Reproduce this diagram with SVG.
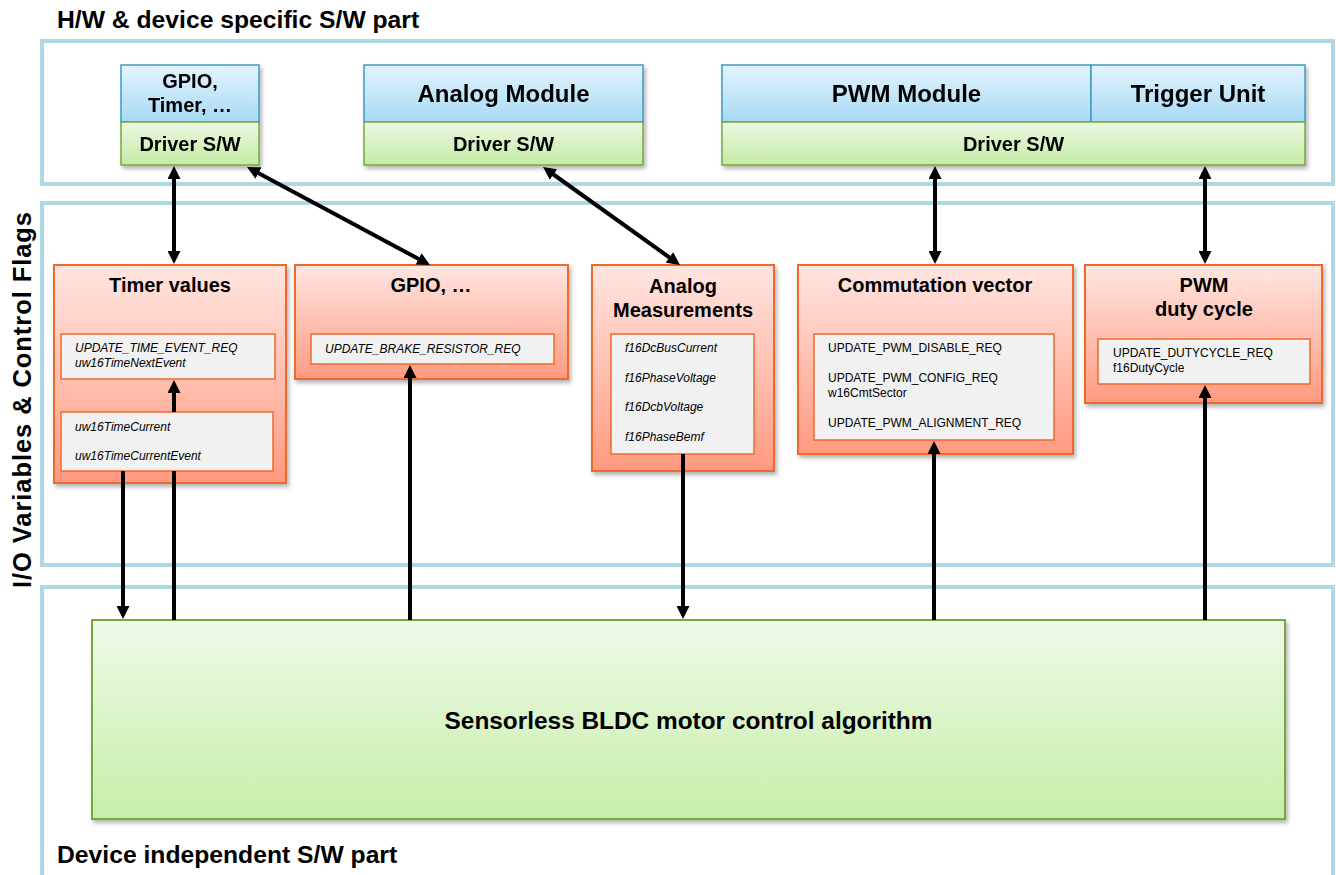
<svg xmlns="http://www.w3.org/2000/svg" width="1336" height="875" viewBox="0 0 1336 875">
<defs>
<linearGradient id="gBlue" x1="0" y1="0" x2="0" y2="1"><stop offset="0" stop-color="#E4F4FD"/><stop offset="1" stop-color="#A7D9F5"/></linearGradient>
<linearGradient id="gGreen" x1="0" y1="0" x2="0" y2="1"><stop offset="0" stop-color="#EDF8E3"/><stop offset="1" stop-color="#C4EBA4"/></linearGradient>
<linearGradient id="gOrange" x1="0" y1="0" x2="0" y2="1"><stop offset="0" stop-color="#FFE6E1"/><stop offset="1" stop-color="#FF9A80"/></linearGradient>
<linearGradient id="gBig" x1="0" y1="0" x2="0" y2="1"><stop offset="0" stop-color="#EFFAE8"/><stop offset="1" stop-color="#C6EEA8"/></linearGradient>
<filter id="shadow" x="-10%" y="-10%" width="130%" height="130%"><feDropShadow dx="2" dy="3" stdDeviation="2" flood-color="#000" flood-opacity="0.3"/></filter>
<marker id="ah" viewBox="0 0 13 13" markerWidth="13" markerHeight="13" refX="7" refY="6.5" orient="auto-start-reverse" markerUnits="userSpaceOnUse"><path d="M0,0 L13,6.5 L0,13 z" fill="#000"/></marker>
</defs>
<style>
.panel{fill:#fff;stroke:#ADD8E6;stroke-width:4}
.blue{fill:url(#gBlue);stroke:#3E9BC6;stroke-width:1.5}
.green{fill:url(#gGreen);stroke:#76A93E;stroke-width:1.5}
.orange{fill:url(#gOrange);stroke:#EE6A2C;stroke-width:2;filter:url(#shadow)}
.inner{fill:#F1F1F1;stroke:#EE6A2C;stroke-width:1.5}
.big{fill:url(#gBig);stroke:#76A93E;stroke-width:2;filter:url(#shadow)}
.hw{filter:url(#shadow)}
text{font-family:"Liberation Sans",Arial,sans-serif;fill:#000}
.hdr{font-size:24.7px;font-weight:bold}
.t20{font-size:20px;font-weight:bold;text-anchor:middle}
.t24{font-size:24px;font-weight:bold;text-anchor:middle}
.t24b{font-size:24.4px;font-weight:bold;text-anchor:middle}
.sm{font-size:12px}
.it{font-size:12px;font-style:italic}
.conn line{stroke:#000;stroke-width:4}
.arr{marker-end:url(#ah)}
.dbl{marker-start:url(#ah);marker-end:url(#ah)}
</style>

<g id="panel-hw"><rect class="panel" x="42" y="41" width="1291" height="143"/><text class="hdr" x="57" y="28">H/W &amp; device specific S/W part</text></g>
<g id="panel-io"><rect class="panel" x="42" y="203" width="1291" height="362"/><text class="hdr" style="font-size:25.5px" transform="translate(31,400) rotate(-90)" text-anchor="middle" textLength="376" lengthAdjust="spacing">I/O Variables &amp; Control Flags</text></g>
<g id="panel-sw"><rect class="panel" x="42" y="587" width="1291" height="300"/><text class="hdr" x="57" y="863">Device independent S/W part</text></g>

<g id="hw-gpio" class="hw">
<rect class="blue" x="121" y="65" width="138" height="57"/>
<rect class="green" x="121" y="122" width="138" height="43"/>
<text class="t20" x="190" y="88">GPIO,</text>
<text class="t20" x="190" y="112">Timer, …</text>
<text class="t20" x="190" y="151">Driver S/W</text>
</g>
<g id="hw-analog" class="hw">
<rect class="blue" x="364" y="65" width="279" height="57"/>
<rect class="green" x="364" y="122" width="279" height="43"/>
<text class="t24" x="503.5" y="102">Analog Module</text>
<text class="t20" x="503.5" y="151">Driver S/W</text>
</g>
<g id="hw-pwm" class="hw">
<rect class="blue" x="722" y="65" width="369" height="57"/>
<rect class="blue" x="1091" y="65" width="214" height="57"/>
<rect class="green" x="722" y="122" width="583" height="43"/>
<text class="t24" x="906.5" y="102">PWM Module</text>
<text class="t24" x="1198" y="102">Trigger Unit</text>
<text class="t20" x="1013.5" y="151">Driver S/W</text>
</g>

<g id="io-timer">
<rect class="orange" x="54" y="265" width="232" height="218"/>
<text class="t20" x="170" y="292">Timer values</text>
<rect class="inner" x="61" y="334" width="214" height="45"/>
<text class="it" x="75" y="352">UPDATE_TIME_EVENT_REQ</text>
<text class="it" x="75" y="367">uw16TimeNextEvent</text>
<rect class="inner" x="61" y="412" width="212" height="59"/>
<text class="it" x="75" y="431">uw16TimeCurrent</text>
<text class="it" x="75" y="460">uw16TimeCurrentEvent</text>
</g>
<g id="io-gpio">
<rect class="orange" x="295" y="265" width="273" height="114"/>
<text class="t20" x="431" y="292">GPIO, …</text>
<rect class="inner" x="311" y="334" width="243" height="30"/>
<text class="it" x="325" y="353">UPDATE_BRAKE_RESISTOR_REQ</text>
</g>
<g id="io-analog">
<rect class="orange" x="592" y="265" width="182" height="206"/>
<text class="t20" x="683" y="293">Analog</text>
<text class="t20" x="683" y="317">Measurements</text>
<rect class="inner" x="611" y="334" width="143" height="120"/>
<text class="it" x="625" y="352">f16DcBusCurrent</text>
<text class="it" x="625" y="382">f16PhaseVoltage</text>
<text class="it" x="625" y="411">f16DcbVoltage</text>
<text class="it" x="625" y="441">f16PhaseBemf</text>
</g>
<g id="io-commutation">
<rect class="orange" x="798" y="265" width="275" height="189"/>
<text class="t20" x="935" y="292">Commutation vector</text>
<rect class="inner" x="814" y="334" width="240" height="106"/>
<text class="sm" x="828" y="352">UPDATE_PWM_DISABLE_REQ</text>
<text class="sm" x="828" y="382">UPDATE_PWM_CONFIG_REQ</text>
<text class="sm" x="828" y="397">w16CmtSector</text>
<text class="sm" x="828" y="427">UPDATE_PWM_ALIGNMENT_REQ</text>
</g>
<g id="io-pwm">
<rect class="orange" x="1085" y="265" width="237" height="138"/>
<text class="t20" x="1204" y="292">PWM</text>
<text class="t20" x="1204" y="316">duty cycle</text>
<rect class="inner" x="1098" y="339" width="212" height="45"/>
<text class="sm" x="1113" y="357">UPDATE_DUTYCYCLE_REQ</text>
<text class="sm" x="1113" y="372">f16DutyCycle</text>
</g>

<g id="algorithm">
<rect class="big" x="92" y="620" width="1193" height="199"/>
<text class="t24b" x="688.5" y="729">Sensorless BLDC motor control algorithm</text>
</g>

<g id="connectors" class="conn">
<line class="dbl" x1="174" y1="172" x2="174" y2="258"/>
<line class="dbl" x1="252.3" y1="169.8" x2="424.7" y2="262.2"/>
<line class="dbl" x1="547.9" y1="170.5" x2="675.1" y2="261.5"/>
<line class="dbl" x1="935" y1="172" x2="935" y2="258"/>
<line class="dbl" x1="1205" y1="172" x2="1205" y2="258"/>
<line class="arr" x1="123" y1="471" x2="123" y2="613"/>
<line x1="174" y1="471" x2="174" y2="620"/>
<line class="arr" x1="174" y1="412" x2="174" y2="386"/>
<line class="arr" x1="410" y1="620" x2="410" y2="371"/>
<line class="arr" x1="683" y1="454" x2="683" y2="613"/>
<line class="arr" x1="934" y1="620" x2="934" y2="447"/>
<line class="arr" x1="1205" y1="620" x2="1205" y2="391"/>
</g>
</svg>
